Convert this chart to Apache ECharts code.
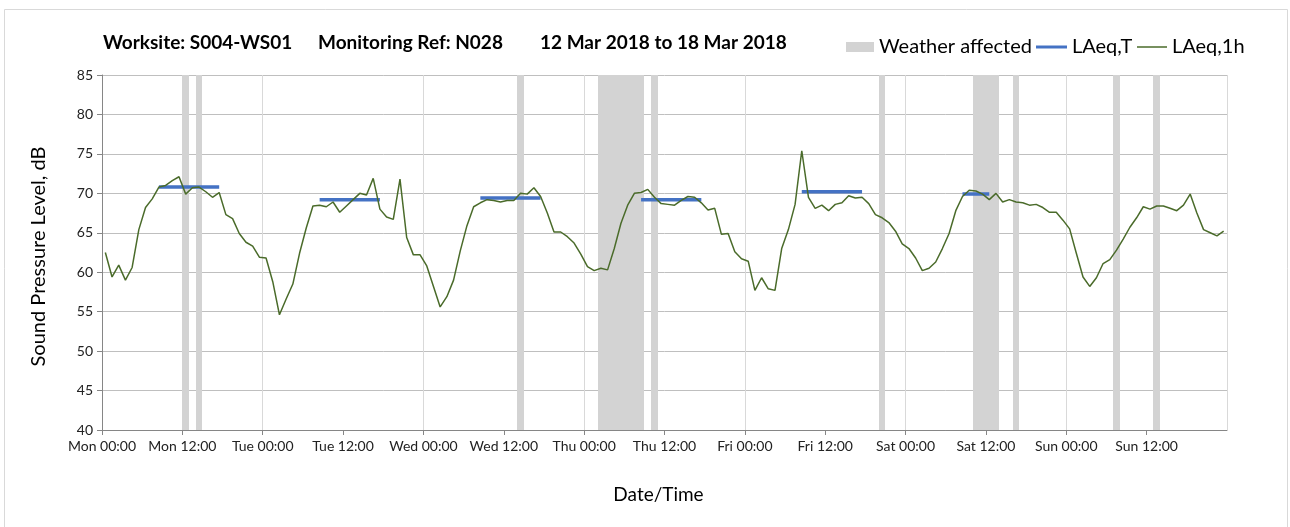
<!DOCTYPE html>
<html>
<head>
<meta charset="utf-8">
<script src="https://cdn.jsdelivr.net/npm/echarts@6/dist/echarts.min.js"></script>
<style>
  html, body { margin: 0; padding: 0; background: #fff; }
  #chart { width: 1290px; height: 527px; }
</style>
</head>
<body>
<div id="chart"></div>
<script>
// hourly LAeq,1h, Mon 00:00 .. Sun 23:00 (plotted at the middle of each hour)
const laeq1h = [
  62.5, 59.4, 60.9, 59.0, 60.6, 65.4, 68.2, 69.3, 70.8, 71.0, 71.6, 72.1,
  69.9, 70.7, 70.8, 70.2, 69.5, 70.1, 67.3, 66.8, 64.9, 63.8, 63.3, 61.9,
  61.8, 58.8, 54.6, 56.6, 58.5, 62.4, 65.6, 68.4, 68.5, 68.3, 68.9, 67.6,
  68.4, 69.2, 70.0, 69.8, 71.9, 68.0, 67.0, 66.7, 71.8, 64.4, 62.2, 62.2,
  60.8, 58.2, 55.6, 56.9, 59.0, 62.7, 65.9, 68.3, 68.8, 69.2, 69.1, 68.9,
  69.1, 69.1, 70.0, 69.9, 70.7, 69.6, 67.5, 65.1, 65.1, 64.5, 63.7, 62.3,
  60.7, 60.2, 60.5, 60.3, 63.0, 66.2, 68.5, 70.0, 70.1, 70.5, 69.5, 68.7,
  68.6, 68.5, 69.1, 69.6, 69.5, 68.8, 67.9, 68.1, 64.8, 64.9, 62.6, 61.7,
  61.4, 57.7, 59.3, 57.9, 57.7, 63.0, 65.4, 68.6, 75.4, 69.5, 68.1, 68.5,
  67.8, 68.6, 68.8, 69.7, 69.4, 69.5, 68.7, 67.3, 66.9, 66.3, 65.2, 63.6,
  63.0, 61.8, 60.2, 60.5, 61.3, 63.0, 64.9, 67.8, 69.6, 70.4, 70.3, 69.9,
  69.2, 70.0, 68.9, 69.2, 68.9, 68.8, 68.5, 68.6, 68.2, 67.6, 67.6, 66.6,
  65.5, 62.4, 59.4, 58.2, 59.3, 61.1, 61.6, 62.8, 64.2, 65.7, 66.9, 68.3,
  68.0, 68.4, 68.4, 68.1, 67.8, 68.5, 69.9, 67.5, 65.4, 65.0, 64.6, 65.2
];

// LAeq,T periods: first and last hour index, and level
const periodStart = [8, 32, 56, 80, 104, 128];
const periodEnd   = [17, 41, 65, 89, 113, 132];
const periodLevel = [70.8, 69.2, 69.4, 69.2, 70.2, 69.9];

// hours flagged as weather affected
const weatherHours = [12, 14, 62, 74, 75, 76, 77, 78, 79, 80, 82, 116, 130, 131, 132, 133, 136, 151, 157];

const tickLabels = [
  'Mon 00:00', 'Mon 12:00', 'Tue 00:00', 'Tue 12:00', 'Wed 00:00', 'Wed 12:00',
  'Thu 00:00', 'Thu 12:00', 'Fri 00:00', 'Fri 12:00', 'Sat 00:00', 'Sat 12:00',
  'Sun 00:00', 'Sun 12:00'
];

const FONT = 'Lato';

const lineData = laeq1h.map((v, i) => [i + 0.5, v]);
const periodData = [];
periodStart.forEach((s, k) => {
  periodData.push([s + 0.5, periodLevel[k]]);
  periodData.push([periodEnd[k] + 0.5, periodLevel[k]]);
  periodData.push([periodEnd[k] + 1, '-']);
});

// one legend per item so each icon can have its own size
function legendItem(name, left, w, h) {
  return {
    left: left,
    top: 37,
    padding: 0,
    icon: 'rect',
    itemWidth: w,
    itemHeight: h,
    textStyle: { fontFamily: FONT, fontSize: 20, color: '#000' },
    data: [name]
  };
}

const chart = echarts.init(document.getElementById('chart'));
chart.setOption({
  animation: false,
  textStyle: { fontFamily: FONT },
  graphic: [{
    type: 'rect',
    z: -10,
    shape: { x: 4.5, y: 9.5, width: 1283, height: 600 },
    style: { fill: 'none', stroke: '#d9d9d9', lineWidth: 1 }
  }],
  title: [
    { text: 'Worksite: S004-WS01', left: 103, top: 33 },
    { text: 'Monitoring Ref: N028', left: 318, top: 33 },
    { text: '12 Mar 2018 to 18 Mar 2018', left: 540, top: 33 }
  ].map(t => Object.assign(t, {
    padding: 0,
    textStyle: { fontFamily: FONT, fontSize: 19, fontWeight: 'bold', color: '#000' }
  })),
  legend: [
    legendItem('Weather affected', 846, 28, 10),
    legendItem('LAeq,T', 1036, 31, 3),
    legendItem('LAeq,1h', 1137, 30, 1.5)
  ],
  grid: { left: 102, right: 63, top: 75, bottom: 97 },
  xAxis: [{
    type: 'value',
    min: 0,
    max: 168,
    interval: 12,
    name: 'Date/Time',
    nameLocation: 'middle',
    nameGap: 55,
    nameTextStyle: { fontFamily: FONT, fontSize: 19, color: '#000', padding: [0, 12, 0, 0] },
    axisLine: { lineStyle: { color: '#868686' } },
    axisTick: { length: 5, lineStyle: { color: '#868686' } },
    axisLabel: {
      fontFamily: FONT, fontSize: 14, color: '#222', margin: 9,
      showMaxLabel: false,
      formatter: v => tickLabels[Math.round(v / 12)] || ''
    },
    splitLine: { show: false }
  }, {
    type: 'value',
    min: 0,
    max: 168,
    interval: 24,
    position: 'bottom',
    axisLine: { show: false },
    axisTick: { show: false },
    axisLabel: { show: false },
    splitLine: { show: true, lineStyle: { color: '#d9d9d9' } }
  }],
  yAxis: {
    type: 'value',
    min: 40,
    max: 85,
    interval: 5,
    name: 'Sound Pressure Level, dB',
    nameLocation: 'middle',
    nameGap: 53,
    nameTextStyle: { fontFamily: FONT, fontSize: 20, color: '#000', padding: [0, 8, 0, 0] },
    axisLine: { show: true, lineStyle: { color: '#868686' } },
    axisTick: { show: true, length: 5, lineStyle: { color: '#868686' } },
    axisLabel: { fontFamily: FONT, fontSize: 14, color: '#222', margin: 9 },
    splitLine: { lineStyle: { color: '#bfbfbf' } }
  },
  series: [
    {
      name: 'Weather affected',
      type: 'custom',
      xAxisIndex: 0,
      itemStyle: { color: '#d3d3d3' },
      z: 1,
      data: weatherHours.map(h => [h]),
      renderItem: (params, api) => {
        const h = api.value(0);
        const p0 = api.coord([h, 85]);
        const p1 = api.coord([h + 1, 40]);
        const x0 = Math.round(p0[0]);
        const x1 = Math.round(p1[0]);
        return {
          type: 'rect',
          shape: { x: x0, y: p0[1], width: x1 - x0, height: p1[1] - p0[1] },
          style: { fill: '#d3d3d3' }
        };
      }
    },
    {
      name: 'LAeq,T',
      type: 'line',
      xAxisIndex: 0,
      data: periodData,
      symbol: 'none',
      connectNulls: false,
      z: 3,
      lineStyle: { color: '#4472c4', width: 3.5 },
      itemStyle: { color: '#4472c4' }
    },
    {
      name: 'LAeq,1h',
      type: 'line',
      xAxisIndex: 0,
      data: lineData,
      symbol: 'none',
      z: 4,
      lineStyle: { color: '#4a6b2a', width: 1.5 },
      itemStyle: { color: '#4a6b2a' }
    }
  ]
});
</script>
</body>
</html>
